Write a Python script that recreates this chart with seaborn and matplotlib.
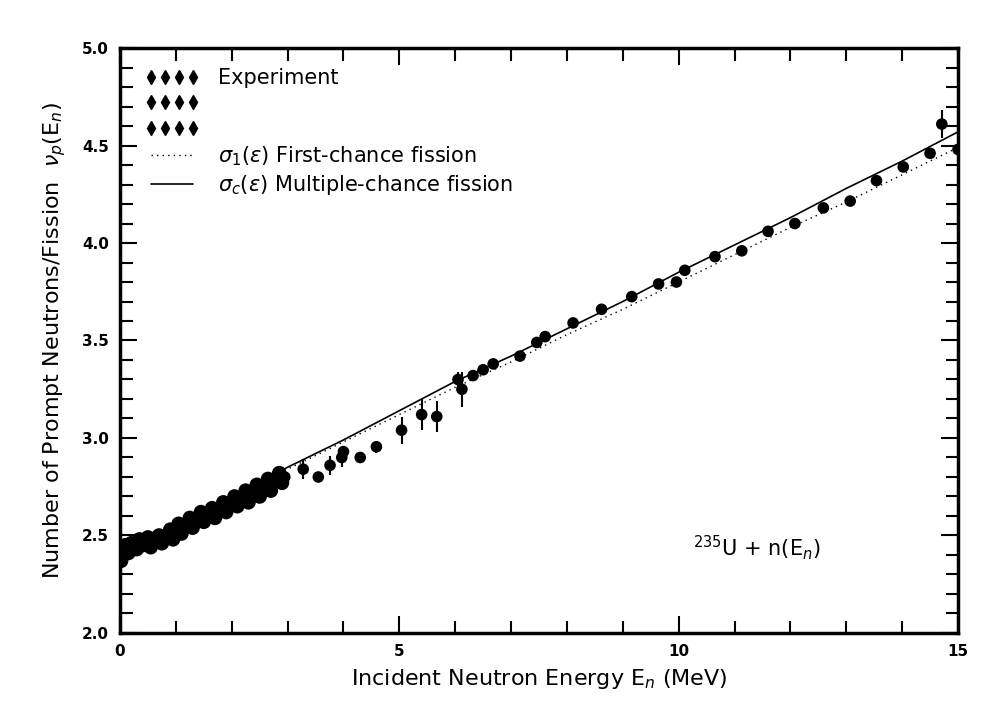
import numpy as np
import pandas as pd
import matplotlib
matplotlib.use("Agg")
import matplotlib.pyplot as plt
from matplotlib.lines import Line2D
import seaborn as sns

# experimental points, dense band below 3 MeV
e_dense = [0.0, 0.0, 0.02, 0.05, 0.1, 0.15, 0.2, 0.3, 0.35, 0.4, 0.5, 0.55, 0.6, 0.7,
           0.75, 0.8, 0.9, 0.95, 1.0, 1.05, 1.1, 1.2, 1.25, 1.3, 1.4, 1.45, 1.5, 1.6,
           1.65, 1.7, 1.8, 1.85, 1.9, 2.0, 2.05, 2.1, 2.2, 2.25, 2.3, 2.4, 2.45, 2.5,
           2.6, 2.65, 2.7, 2.8, 2.85, 2.9]
nu_dense = [2.40, 2.44, 2.37, 2.42, 2.45, 2.41, 2.46, 2.43, 2.48, 2.45, 2.49, 2.44, 2.47, 2.50,
            2.46, 2.49, 2.53, 2.48, 2.52, 2.56, 2.51, 2.55, 2.59, 2.54, 2.58, 2.62, 2.57, 2.61,
            2.64, 2.59, 2.63, 2.67, 2.62, 2.66, 2.70, 2.65, 2.69, 2.73, 2.67, 2.72, 2.76, 2.70,
            2.75, 2.79, 2.73, 2.79, 2.82, 2.77]
err_dense = [0.07, 0.05, 0.06, 0.04, 0.03, 0.03, 0.03, 0.03, 0.03, 0.03, 0.03, 0.03, 0.03, 0.03,
             0.03, 0.03, 0.03, 0.03, 0.03, 0.03, 0.03, 0.03, 0.03, 0.03, 0.03, 0.03, 0.03, 0.03,
             0.03, 0.03, 0.03, 0.03, 0.03, 0.03, 0.03, 0.03, 0.03, 0.03, 0.03, 0.03, 0.03, 0.03,
             0.03, 0.03, 0.03, 0.03, 0.03, 0.03]

# experimental points above 3 MeV
e_sparse = [2.95, 3.28, 3.55, 3.76, 3.97, 4.0, 4.30, 4.59, 5.04, 5.40, 5.67, 6.12, 6.05,
            6.32, 6.50, 6.68, 7.16, 7.46, 7.61, 8.11, 8.62, 9.16, 9.64, 9.96, 10.11,
            10.65, 11.13, 11.60, 12.08, 12.59, 13.07, 13.54, 14.02, 14.50, 14.71, 15.0]
nu_sparse = [2.80, 2.84, 2.80, 2.86, 2.90, 2.93, 2.90, 2.955, 3.04, 3.12, 3.11, 3.25, 3.30,
             3.32, 3.35, 3.38, 3.42, 3.49, 3.52, 3.59, 3.66, 3.725, 3.79, 3.80, 3.86,
             3.93, 3.96, 4.06, 4.10, 4.18, 4.215, 4.32, 4.39, 4.46, 4.61, 4.48]
err_sparse = [0.03, 0.05, 0.02, 0.05, 0.05, 0.03, 0.03, 0.03, 0.07, 0.08, 0.08, 0.09, 0.04,
              0.01, 0.01, 0.01, 0.02, 0.02, 0.02, 0.01, 0.01, 0.01, 0.01, 0.02, 0.02,
              0.02, 0.01, 0.01, 0.01, 0.01, 0.01, 0.01, 0.01, 0.01, 0.07, 0.01]

# calculated curves
e_calc = [0, 1, 2, 3, 4, 5, 6, 7, 8, 9, 10, 11, 12, 13, 14, 15]
nu_first = [2.42, 2.56, 2.70, 2.84, 2.98, 3.12, 3.26, 3.39, 3.53, 3.66, 3.80, 3.94, 4.08, 4.21, 4.35, 4.49]
nu_multi = [2.42, 2.56, 2.70, 2.85, 2.99, 3.14, 3.29, 3.42, 3.56, 3.70, 3.85, 3.99, 4.13, 4.28, 4.42, 4.57]

sns.set_style("ticks")
plt.rcParams["font.family"] = ["DejaVu Sans"]
plt.rcParams.update({"text.color": "black", "axes.labelcolor": "black",
                     "xtick.color": "black", "ytick.color": "black",
                     "axes.edgecolor": "black"})

exp = pd.DataFrame({"E": e_dense + e_sparse, "nu": nu_dense + nu_sparse,
                    "err": err_dense + err_sparse,
                    "size": [110] * len(e_dense) + [70] * len(e_sparse)})
calc = pd.DataFrame({"E": e_calc, "first": nu_first, "multi": nu_multi})

fig = plt.figure(figsize=(9.85, 7.03), dpi=100)
ax = fig.add_axes([0.1218, 0.0996, 0.8508, 0.8321])

sns.lineplot(data=calc, x="E", y="first", ax=ax, color="black", lw=1.0, linestyle=(0, (1, 3)))
sns.lineplot(data=calc, x="E", y="multi", ax=ax, color="black", lw=1.2)
ax.errorbar(exp["E"], exp["nu"], yerr=exp["err"], fmt="none", ecolor="black", elinewidth=1.5, capsize=0)
sns.scatterplot(data=exp, x="E", y="nu", ax=ax, color="black", size="size",
                sizes=(70, 110), legend=False, edgecolor="black", linewidth=0)

ax.set_xlim(0, 15)
ax.set_ylim(2.0, 5.0)
ax.set_xticks([0, 5, 10, 15])
ax.set_xticks(np.arange(0, 16, 1), minor=True)
ax.set_yticks(np.arange(2.0, 5.01, 0.5))
ax.set_yticks(np.arange(2.0, 5.01, 0.1), minor=True)
ax.set_xticklabels(["0", "5", "10", "15"])
ax.set_yticklabels(["2.0", "2.5", "3.0", "3.5", "4.0", "4.5", "5.0"])
ax.tick_params(which="both", direction="in", top=True, right=True, width=1.5, labelsize=11, pad=8)
ax.tick_params(which="major", length=12)
ax.tick_params(which="minor", length=9)
for lab in ax.get_xticklabels() + ax.get_yticklabels():
    lab.set_fontweight("bold")
for sp in ax.spines.values():
    sp.set_linewidth(2.5)

ax.set_xlabel("Incident Neutron Energy E$_n$ (MeV)", fontsize=16, labelpad=6)
ax.set_ylabel(r"Number of Prompt Neutrons/Fission  $\nu_p$(E$_n$)", fontsize=16, labelpad=10)

ax.text(10.25, 2.44, r"$^{235}$U + n(E$_n$)", fontsize=15, ha="left", va="center")

h_exp = Line2D([], [], color="black", marker="d", markersize=7, linestyle="none")
h_dot = Line2D([], [], color="black", lw=1.0, linestyle=(0, (1, 3)))
h_solid = Line2D([], [], color="black", lw=1.2)
ax.legend(handles=[h_exp, h_exp, h_exp, h_dot, h_solid],
          labels=["Experiment", " ", " ",
                  r"$\sigma_1(\epsilon)$ First-chance fission",
                  r"$\sigma_c(\epsilon)$ Multiple-chance fission"],
          numpoints=4, loc="upper left", bbox_to_anchor=(0.03, 0.965), frameon=False,
          fontsize=15, handlelength=2.6, handletextpad=0.9, labelspacing=0.25,
          borderaxespad=0, borderpad=0)

fig.savefig("out.png", dpi=100)
